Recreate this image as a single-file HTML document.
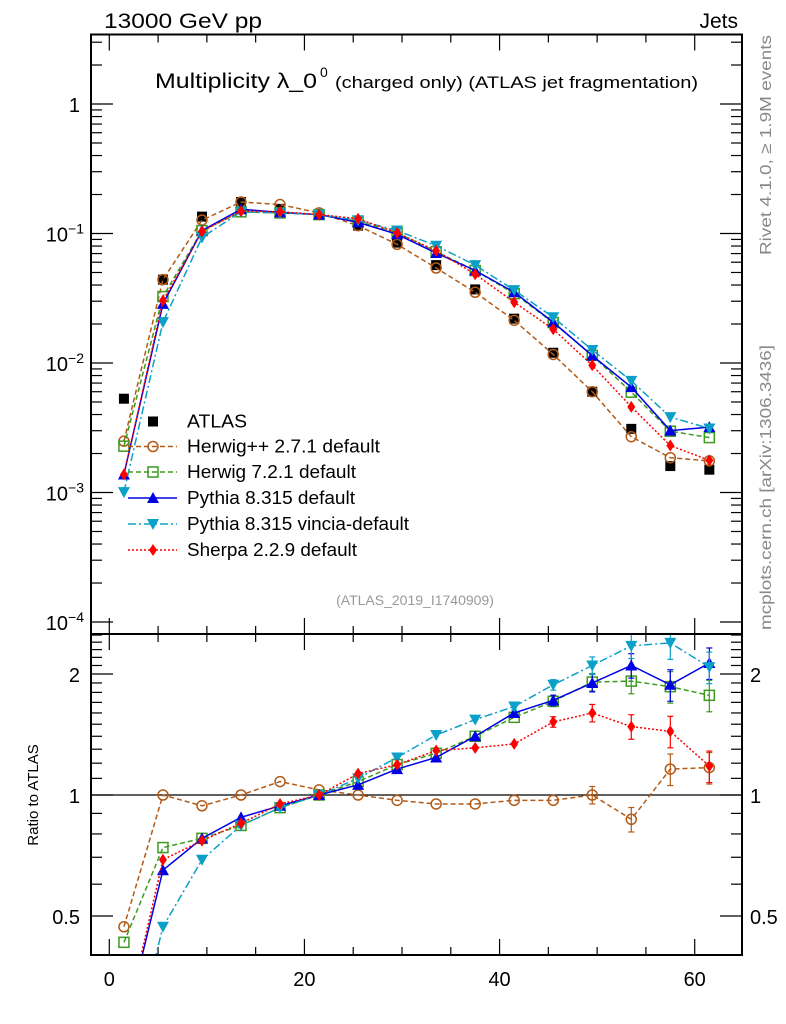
<!DOCTYPE html>
<html><head><meta charset="utf-8">
<style>
html,body{margin:0;padding:0;background:#fff;width:786px;height:1024px;overflow:hidden;}
svg{display:block;font-family:"Liberation Sans",Arial,sans-serif;}
</style></head>
<body>
<svg id="chart" width="786" height="1024" viewBox="0 0 786 1024" xmlns="http://www.w3.org/2000/svg">
<g id="plot"></g>
<g id="frames" fill="none" stroke="#000" stroke-width="2">
  <rect x="91" y="34.5" width="651" height="599.5"/>
  <rect x="91" y="634" width="651" height="321"/>
</g>
<text x="104" y="28" font-size="21" textLength="158" lengthAdjust="spacingAndGlyphs">13000 GeV pp</text>
<text x="738" y="28" font-size="21" text-anchor="end">Jets</text>
<text x="155" y="88" font-size="21" textLength="162" lengthAdjust="spacingAndGlyphs">Multiplicity λ_0</text>
<text x="320" y="77" font-size="14">0</text>
<text x="335" y="88" font-size="17" textLength="363" lengthAdjust="spacingAndGlyphs">(charged only) (ATLAS jet fragmentation)</text>
<text transform="translate(771,255) rotate(-90)" font-size="16" fill="#888" textLength="220" lengthAdjust="spacingAndGlyphs">Rivet 4.1.0, ≥ 1.9M events</text>
<text transform="translate(771,630) rotate(-90)" font-size="16" fill="#888" textLength="285" lengthAdjust="spacingAndGlyphs">mcplots.cern.ch [arXiv:1306.3436]</text>
<text x="415" y="605" font-size="14" fill="#999" text-anchor="middle">(ATLAS_2019_I1740909)</text>
<text transform="translate(38,795) rotate(-90)" font-size="15" text-anchor="middle">Ratio to ATLAS</text>
</svg>
<script>
// ---- data ----
const binCenters = [1.5,5.5,9.5,13.5,17.5,21.5,25.5,29.5,33.5,37.5,41.5,45.5,49.5,53.5,57.5,61.5];
const atlasValues = [0.0053,0.044,0.135,0.175,0.155,0.14,0.115,0.085,0.057,0.037,0.022,0.012,0.006,0.0031,0.0016,0.0015];
const herwigppRatio = [0.47,1.0,0.94,1.0,1.08,1.03,1.0,0.97,0.95,0.95,0.97,0.97,1.0,0.87,1.16,1.17];
const herwig7Ratio  = [0.43,0.74,0.78,0.84,0.93,1.0,1.08,1.19,1.27,1.40,1.56,1.71,1.91,1.92,1.86,1.77];
const pythiaRatio   = [0.26,0.65,0.78,0.88,0.94,1.0,1.06,1.16,1.24,1.40,1.60,1.72,1.90,2.10,1.88,2.13];
const vinciaRatio   = [0.19,0.47,0.69,0.84,0.93,1.0,1.10,1.24,1.41,1.54,1.66,1.88,2.10,2.35,2.39,2.08];
const sherpaRatio   = [0.26,0.69,0.77,0.85,0.95,1.0,1.13,1.19,1.29,1.31,1.34,1.52,1.60,1.48,1.44,1.18];
const ratioErr      = [0.05,0.01,0.01,0.01,0.01,0.01,0.01,0.01,0.01,0.02,0.02,0.03,0.05,0.07,0.09,0.09];
const xTickMajor = [0,20,40,60];
const mainDecades = [1,0.1,0.01,0.001,0.0001];
const mainDecadeExp = ["1","-1","-2","-3","-4"];
const ratioMajor = [0.5,1,2];
const ratioMajorLabels = ["0.5","1","2"];

// ---- axes ----
const X0=109.3, XS=(694.7-109.3)/60;
const xs = v => X0 + v*XS;
const ys = v => 104 - Math.log10(v)*129.5;
const yr = v => 795 - Math.log2(v)*121;
const NS="http://www.w3.org/2000/svg";
const plot=document.getElementById('plot');
function el(tag,attrs,parent){const e=document.createElementNS(NS,tag);for(const k in attrs)e.setAttribute(k,attrs[k]);(parent||plot).appendChild(e);return e;}

const defs=el('defs',{});
const c1=el('clipPath',{id:'cm'},defs); el('rect',{x:91,y:34.5,width:651,height:599.5},c1);
const c2=el('clipPath',{id:'cr'},defs); el('rect',{x:91,y:634,width:651,height:321},c2);

const tk=el('g',{stroke:'#000','stroke-width':1.2});


for(let v=0;v<=65;v+=5){
  const maj=xTickMajor.includes(v), L=maj?16:8, x=xs(v);
  if(x>742)continue;
  el('line',{x1:x,y1:34.5,x2:x,y2:34.5+L},tk);
  el('line',{x1:x,y1:634,x2:x,y2:634-L},tk);
  el('line',{x1:x,y1:634,x2:x,y2:634+L},tk);
  el('line',{x1:x,y1:955,x2:x,y2:955-L},tk);
}
for(let e=-4;e<=1;e++){
  for(let m=1;m<10;m++){
    const v=m*Math.pow(10,e), y=ys(v);
    if(y<35||y>633)continue;
    const L=m===1?22:11;
    el('line',{x1:91,y1:y,x2:91+L,y2:y},tk);
    el('line',{x1:742,y1:y,x2:742-L,y2:y},tk);
  }
}
const rmin=[0.4,0.6,0.7,0.8,0.9,1.1,1.2,1.3,1.4,1.5,1.6,1.7,1.8,1.9,2.1,2.2,2.3,2.4,2.5];
rmin.forEach(v=>{const y=yr(v);if(y<635||y>954)return;
  el('line',{x1:91,y1:y,x2:102,y2:y},tk);el('line',{x1:742,y1:y,x2:731,y2:y},tk);});
ratioMajor.forEach(v=>{const y=yr(v);
  el('line',{x1:91,y1:y,x2:113,y2:y},tk);el('line',{x1:742,y1:y,x2:720,y2:y},tk);});

xTickMajor.forEach(v=>{
  const t=el('text',{x:xs(v),y:986,'font-size':20,'text-anchor':'middle'});
  
  
  t.textContent=v;
});
mainDecades.forEach((v,i)=>{
  const t=el('text',{x:i===0?80:84,y:ys(v)+8,'font-size':20,'text-anchor':'end'});
  
  
  if(i===0){t.textContent='1';}
  else{t.textContent='10';const s=el('tspan',{dy:-8,'font-size':14},t);s.textContent='−'+mainDecadeExp[i].slice(1);}
});
ratioMajor.forEach((v,i)=>{
  const t=el('text',{x:80,y:yr(v)+8,'font-size':20,'text-anchor':'end'});
  
  
  t.textContent=ratioMajorLabels[i];
  const t2=el('text',{x:750,y:yr(v)+8,'font-size':20});
  
  
  t2.textContent=ratioMajorLabels[i];
});
const ul=el('line',{x1:91,y1:yr(1),x2:742,y2:yr(1),stroke:'#000','stroke-width':1.2});



function marker(type,x,y,color,g){
  if(type==='sqf') return el('rect',{x:x-5,y:y-5,width:10,height:10,fill:'#000'},g);
  if(type==='circ') return el('circle',{cx:x,cy:y,r:5,fill:'none',stroke:color,'stroke-width':1.5},g);
  if(type==='sqo') return el('rect',{x:x-5,y:y-5,width:10,height:10,fill:'none',stroke:color,'stroke-width':1.5},g);
  if(type==='tu') return el('path',{d:`M${x},${y-6}L${x+6},${y+5}L${x-6},${y+5}Z`,fill:color},g);
  if(type==='td') return el('path',{d:`M${x},${y+6}L${x+6},${y-5}L${x-6},${y-5}Z`,fill:color},g);
  if(type==='dia') return el('path',{d:`M${x},${y-6}L${x+4},${y}L${x},${y+6}L${x-4},${y}Z`,fill:color},g);
}
const series=[
 {name:'herwigpp',ratio:herwigppRatio,color:'#b35a17',dash:'5,3',m:'circ',label:'Herwig++ 2.7.1 default',len:193},
 {name:'herwig7',ratio:herwig7Ratio,color:'#3d9a1f',dash:'5,3',m:'sqo',label:'Herwig 7.2.1 default',len:169},
 {name:'pythia',ratio:pythiaRatio,color:'#0000e6',dash:'none',m:'tu',label:'Pythia 8.315 default',len:168},
 {name:'vincia',ratio:vinciaRatio,color:'#0aa0c8',dash:'8,3,2,3',m:'td',label:'Pythia 8.315 vincia-default',len:222},
 {name:'sherpa',ratio:sherpaRatio,color:'#ff0000',dash:'2,2',m:'dia',label:'Sherpa 2.2.9 default',len:170}
];

const ga=el('g',{'clip-path':'url(#cm)'});


binCenters.forEach((b,i)=>marker('sqf',xs(b),ys(atlasValues[i]),'#000',ga));

series.forEach(s=>{
  const gm=el('g',{'clip-path':'url(#cm)'});
  
  
  const pts=binCenters.map((b,i)=>xs(b)+','+ys(s.ratio[i]*atlasValues[i])).join(' ');
  el('polyline',{points:pts,fill:'none',stroke:s.color,'stroke-width':1.5,'stroke-dasharray':s.dash},gm);
  binCenters.forEach((b,i)=>marker(s.m,xs(b),ys(s.ratio[i]*atlasValues[i]),s.color,gm));

  const gr=el('g',{'clip-path':'url(#cr)'});
  
  
  const rp=binCenters.map((b,i)=>xs(b)+','+yr(s.ratio[i])).join(' ');
  el('polyline',{points:rp,fill:'none',stroke:s.color,'stroke-width':1.5,'stroke-dasharray':s.dash},gr);
  binCenters.forEach((b,i)=>{
    const x=xs(b),r=s.ratio[i],e=ratioErr[i]*r;
    if(e*121>4){
      el('line',{x1:x,y1:yr(r+e),x2:x,y2:yr(Math.max(r-e,0.01)),stroke:s.color,'stroke-width':1.2},gr);
      el('line',{x1:x-3,y1:yr(r+e),x2:x+3,y2:yr(r+e),stroke:s.color,'stroke-width':1.2},gr);
      el('line',{x1:x-3,y1:yr(r-e),x2:x+3,y2:yr(r-e),stroke:s.color,'stroke-width':1.2},gr);
    }
    marker(s.m,x,yr(r),s.color,gr);
  });
});

const lg=el('g',{});


const rows=[421.5,446.5,472,498,524,550];
const la=el('g',{},lg);


marker('sqf',153,rows[0],'#000',la);
const lt=el('text',{x:187,y:rows[0]+6,'font-size':18,textLength:60,lengthAdjust:'spacingAndGlyphs'},la); lt.textContent='ATLAS';
series.forEach((s,i)=>{
  const g=el('g',{},lg);
  
  
  const y=rows[i+1];
  el('line',{x1:128,y1:y,x2:177,y2:y,stroke:s.color,'stroke-width':1.5,'stroke-dasharray':s.dash},g);
  marker(s.m,153,y,s.color,g);
  const t=el('text',{x:187,y:y+6,'font-size':18,textLength:s.len,lengthAdjust:'spacingAndGlyphs'},g); t.textContent=s.label;
});
</script>
</body></html>
